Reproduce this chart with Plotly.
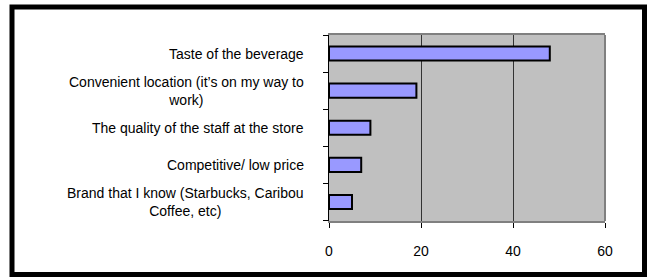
import plotly.graph_objects as go

categories = [
    "Taste of the beverage",
    "Convenient location (it’s on my way to<br>work)",
    "The quality of the staff at the store",
    "Competitive/ low price",
    "Brand that I know (Starbucks, Caribou<br>Coffee, etc)",
]
values = [48, 19, 9, 7, 5]
x_ticks = [0, 20, 40, 60]

W, H = 648, 278
L, R, T, B = 329, 605, 35, 221  # plot area in pixels


def px(x):
    return (x - L) / (R - L)


def py(y):
    return (B - y) / (B - T)


fig = go.Figure()
fig.add_trace(go.Bar(
    y=list(range(len(categories))),
    x=values,
    orientation="h",
    width=0.38,
    marker=dict(color="#9999FF", line=dict(color="#000000", width=2)),
    hoverinfo="x",
))

annotations = []
for i, c in enumerate(categories):
    annotations.append(dict(
        x=px(306), xref="paper", y=i, yref="y",
        text=c, showarrow=False, xanchor="right", yanchor="middle",
        align="center",
        font=dict(family="Liberation Sans, Arial, sans-serif", size=14, color="#000000"),
    ))

shapes = [
    # right edge of plot area (gray)
    dict(type="line", xref="paper", yref="paper", x0=1, x1=1, y0=0, y1=1,
         line=dict(color="#808080", width=2)),
    # outer chart border
    dict(type="rect", xref="paper", yref="paper",
         x0=px(12), x1=px(644.5), y0=py(274.5), y1=py(7),
         line=dict(color="#000000", width=5)),
]

fig.update_layout(
    width=W, height=H,
    margin=dict(l=L, r=W - R, t=T, b=H - B, pad=0),
    paper_bgcolor="#FFFFFF",
    plot_bgcolor="#C0C0C0",
    showlegend=False,
    annotations=annotations,
    shapes=shapes,
    font=dict(family="Liberation Sans, Arial, sans-serif", size=14, color="#000000"),
)
fig.update_xaxes(
    range=[0, 60], tickvals=x_ticks, ticktext=[str(v) for v in x_ticks],
    showgrid=True, gridcolor="#333333", gridwidth=1,
    showline=True, linecolor="#808080", linewidth=2, mirror=True,
    ticks="outside", ticklen=5, tickcolor="#000000", tickwidth=1,
    ticklabelstandoff=11, zeroline=False,
    tickfont=dict(size=14),
)
fig.update_yaxes(
    type="category", autorange="reversed",
    tickvals=list(range(len(categories))),
    showticklabels=False, tickson="boundaries",
    ticks="outside", ticklen=5, tickcolor="#000000", tickwidth=1,
    showline=True, linecolor="#000000", linewidth=1,
    showgrid=False, zeroline=False,
)

fig.write_html(
    "out.html",
    config={"displayModeBar": False},
    post_script="document.body.style.margin='0';document.body.style.overflow='hidden';",
)
